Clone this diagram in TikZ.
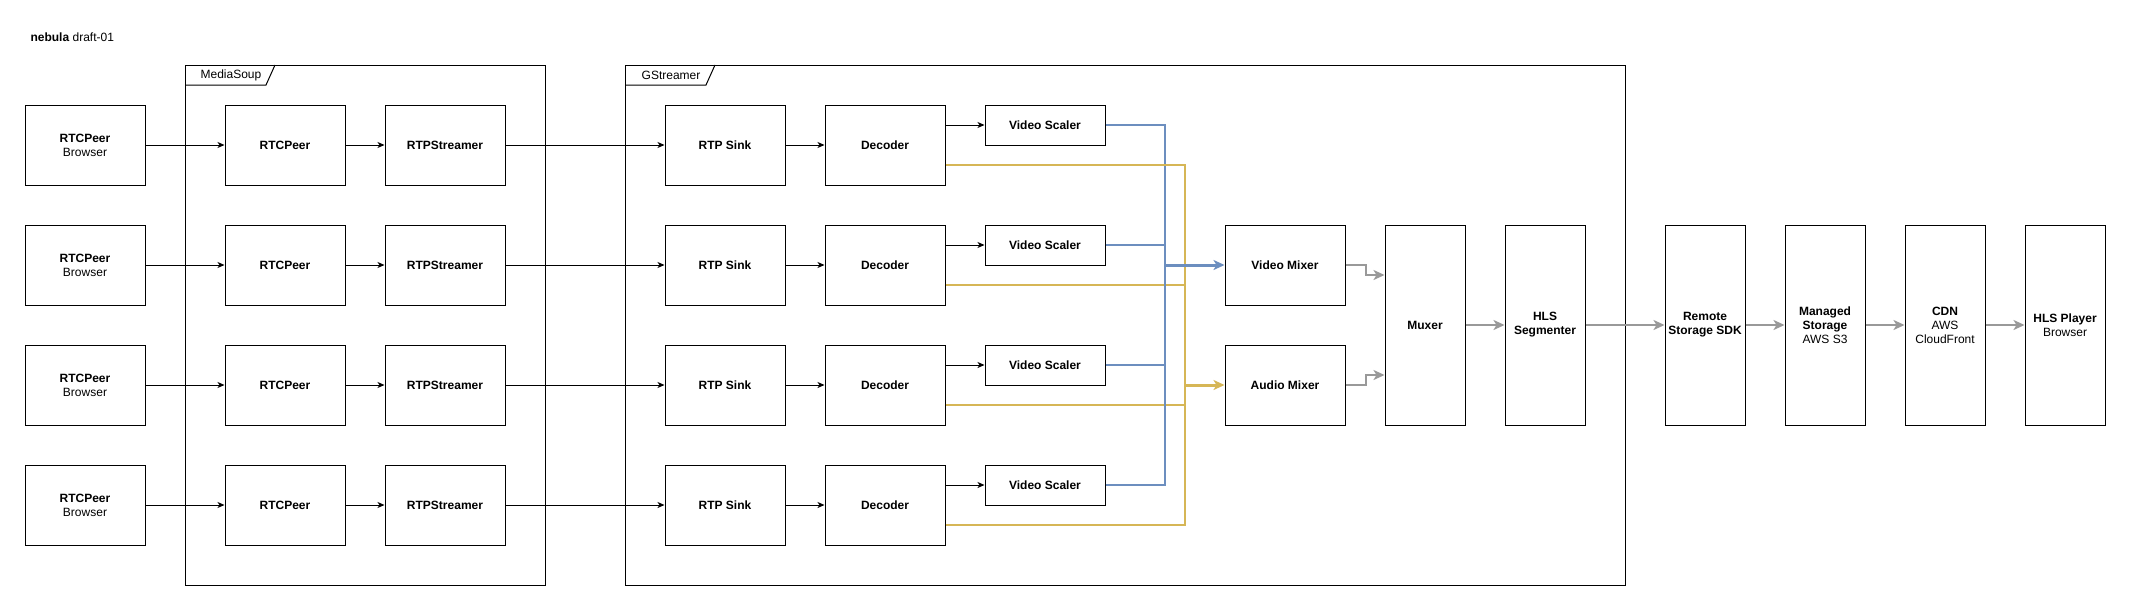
\documentclass[tikz,border=0pt]{standalone}
\usepackage{fontspec}
\setmainfont{Liberation Sans}
\usetikzlibrary{arrows.meta,calc}

\definecolor{vblue}{HTML}{6C8EBF}
\definecolor{ayellow}{HTML}{D6B656}
\definecolor{outgray}{HTML}{999999}

\begin{document}
\begin{tikzpicture}[x=1pt,y=-1pt,
        every node/.style={font=\fontsize{12}{14}\selectfont},
        box/.style={draw,line width=1pt,minimum width=120pt,minimum height=80pt,inner sep=0pt,align=center},
        tallbox/.style={box,minimum width=80pt,minimum height=200pt},
        scalerbox/.style={box,minimum height=40pt},
        frame/.style={draw,line width=1pt},
        link/.style={line width=1pt,-{Stealth[length=7pt,width=6pt,inset=2pt]}},
        vlink/.style={line width=2pt,draw=vblue},
        alink/.style={line width=2pt,draw=ayellow},
        glink/.style={line width=2pt,draw=outgray,-{Stealth[length=11pt,width=10pt,inset=3pt]}}]
    \useasboundingbox (0,0) rectangle (2131,611);

    \node[anchor=west] (title) at (27,37) {\textbf{nebula} draft-01};

    % frames
    \draw[frame] (185,65) rectangle (545,585);
    \draw[frame] (185,85) -- (266,85) -- (275,65);
    \node (msoup) at (231,75) {MediaSoup};
    \draw[frame] (625,65) rectangle (1625,585);
    \draw[frame] (625,85) -- (706,85) -- (715,65);
    \node (gst) at (671,75) {GStreamer};

    % mixers and output chain
    \node[box] (vmix) at (1285,265) {\textbf{Video Mixer}};
    \node[box] (amix) at (1285,385) {\textbf{Audio Mixer}};
    \node[tallbox] (mux) at (1425,325) {\textbf{Muxer}};
    \node[tallbox] (hls) at (1545,325) {\textbf{HLS}\\\textbf{Segmenter}};
    \node[tallbox] (rsdk) at (1705,325) {\textbf{Remote}\\\textbf{Storage SDK}};
    \node[tallbox] (s3) at (1825,325) {\textbf{Managed}\\\textbf{Storage}\\AWS S3};
    \node[tallbox] (cdn) at (1945,325) {\textbf{CDN}\\AWS\\CloudFront};
    \node[tallbox] (player) at (2065,325) {\textbf{HLS Player}\\Browser};
    \coordinate (vbus) at (1165,265);
    \coordinate (abus) at (1185,385);

    % one row per peer
    \foreach \r/\y in {1/145,2/265,3/385,4/505} {
        \node[box] (brw\r) at (85,\y) {\textbf{RTCPeer}\\Browser};
        \node[box] (peer\r) at (285,\y) {\textbf{RTCPeer}};
        \node[box] (rtps\r) at (445,\y) {\textbf{RTPStreamer}};
        \node[box] (sink\r) at (725,\y) {\textbf{RTP Sink}};
        \node[box] (dec\r) at (885,\y) {\textbf{Decoder}};
        \node[scalerbox] (vs\r) at (1045,\y-20) {\textbf{Video Scaler}};
        \draw[link] (brw\r) -- (peer\r);
        \draw[link] (peer\r) -- (rtps\r);
        \draw[link] (rtps\r) -- (sink\r);
        \draw[link] (sink\r) -- (dec\r);
        \draw[link] ([yshift=20pt]dec\r.east) -- (vs\r.west);
        \draw[vlink] (vs\r.east) -| (vbus);
        \draw[alink] ([yshift=-20pt]dec\r.east) -| (abus);
    }
    \draw[vlink,line width=3pt,-{Stealth[length=11pt,width=10pt,inset=3pt]}] (vbus) -- (vmix.west);
    \draw[alink,line width=3pt,-{Stealth[length=11pt,width=10pt,inset=3pt]}] (abus) -- (amix.west);

    \draw[glink] (vmix.east) -- ++(20,0) |- ([yshift=50pt]mux.west);
    \draw[glink] (amix.east) -- ++(20,0) |- ([yshift=-50pt]mux.west);
    \draw[glink] (mux) -- (hls);
    \draw[glink] (hls) -- (rsdk);
    \draw[glink] (rsdk) -- (s3);
    \draw[glink] (s3) -- (cdn);
    \draw[glink] (cdn) -- (player);
\end{tikzpicture}
\end{document}
